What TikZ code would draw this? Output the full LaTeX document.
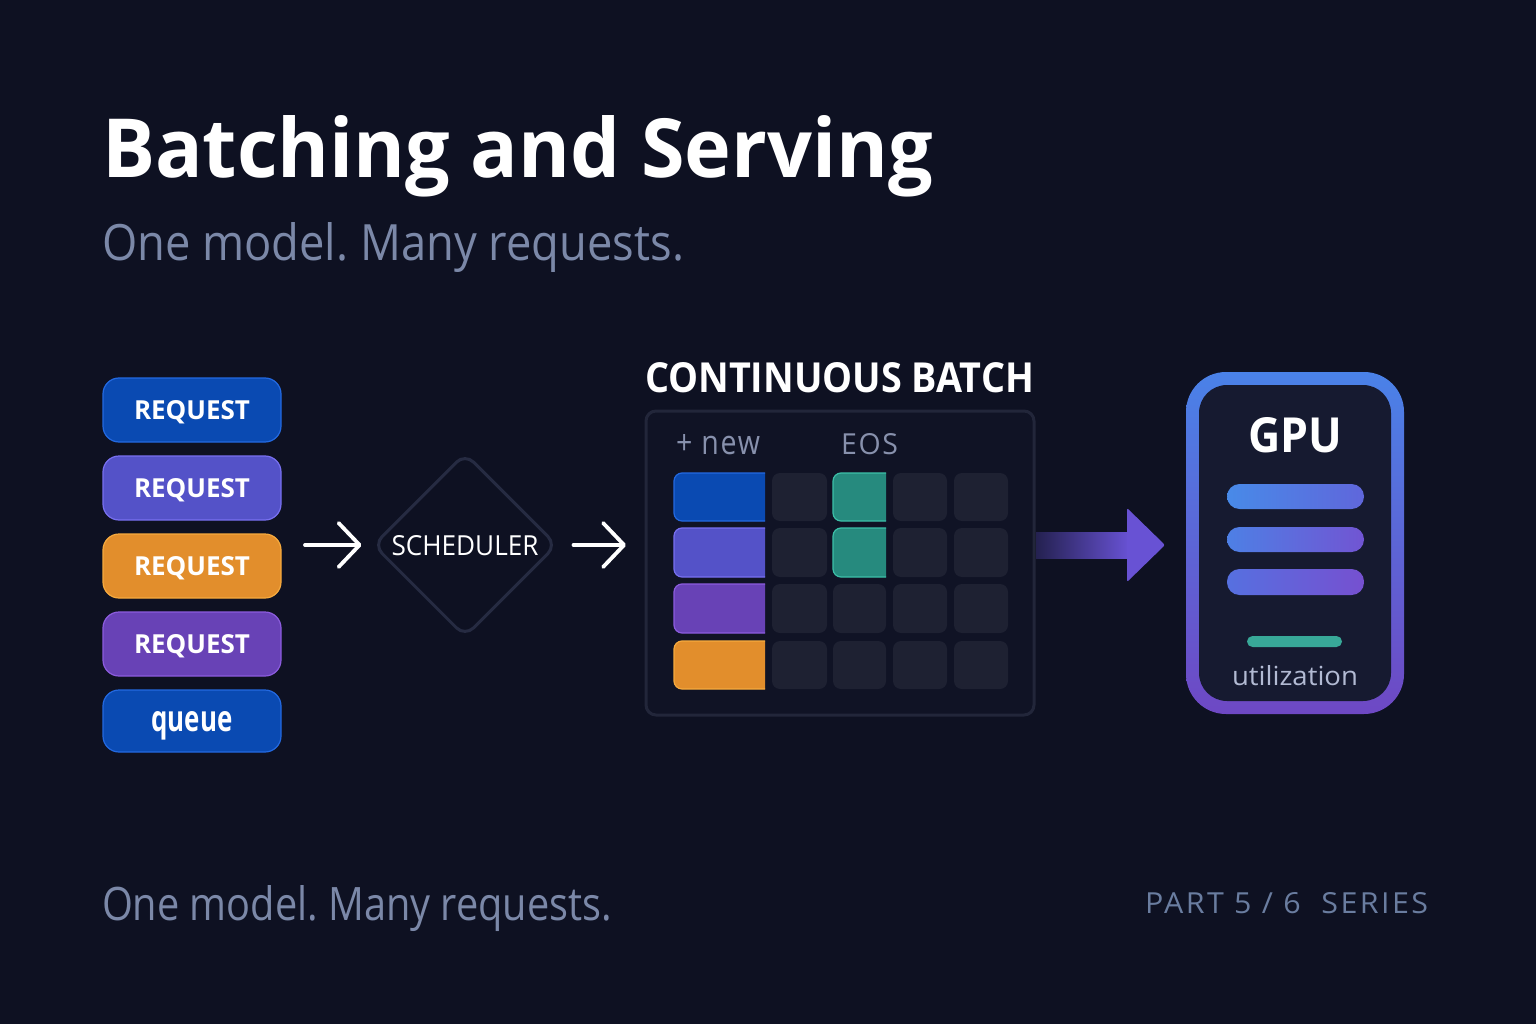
\documentclass[tikz,border=0pt]{standalone}
\usepackage{fontspec}
\usepackage{graphicx}
\setmainfont{Open Sans}
\newfontfamily\partfont[LetterSpace=8]{Open Sans}
\newfontfamily\trackfont[LetterSpace=6]{Open Sans}
\frenchspacing
\usetikzlibrary{arrows.meta,shapes.geometric}
\definecolor{bg}{RGB}{14,17,34}
\definecolor{panelfill}{RGB}{16,19,37}
\definecolor{panelline}{RGB}{34,38,58}
\definecolor{diamline}{RGB}{38,43,66}
\definecolor{celldark}{RGB}{30,33,50}
\definecolor{cblue}{RGB}{10,74,178}
\definecolor{cblueb}{RGB}{35,105,225}
\definecolor{cindigo}{RGB}{84,82,200}
\definecolor{cindigob}{RGB}{120,112,240}
\definecolor{cpurple}{RGB}{104,66,182}
\definecolor{cpurpleb}{RGB}{140,92,222}
\definecolor{corange}{RGB}{226,142,44}
\definecolor{corangeb}{RGB}{246,170,62}
\definecolor{cteal}{RGB}{38,138,126}
\definecolor{ctealb}{RGB}{60,192,168}
\definecolor{subgray}{RGB}{123,136,168}
\definecolor{partgray}{RGB}{106,125,160}
\definecolor{labgray}{RGB}{136,145,173}
\definecolor{utilgray}{RGB}{178,186,211}
\definecolor{gputop}{RGB}{74,130,232}
\definecolor{gpubot}{RGB}{110,72,196}
\definecolor{gpuin}{RGB}{22,26,48}
\definecolor{arrowc}{RGB}{104,82,212}
\definecolor{arrowdark}{RGB}{36,33,80}
\definecolor{barblue}{RGB}{72,138,232}
\definecolor{barmid}{RGB}{86,112,224}
\definecolor{barpurp}{RGB}{118,80,208}
\definecolor{utilteal}{RGB}{56,168,152}
\newcommand\fsz[1]{\fontsize{#1}{#1}\selectfont}
\newcommand\fitt[3]{\resizebox{#1pt}{#2pt}{#3}}
\newcommand\leftcell[6]{%
  \begin{scope}
    \clip ({#1-3},{#2-3}) rectangle (#3,{#4+3});
    \draw[fill=#5,draw=#6,line width=1.2pt,rounded corners=8pt] (#1,#2) rectangle ({#3+20},#4);
  \end{scope}}
\begin{document}
\begin{tikzpicture}[x=1pt,y=-1pt,
  txt/.style={inner sep=0pt,outer sep=0pt},
  req/.style={rounded corners=16pt,minimum width=178pt,minimum height=64pt,inner sep=0pt,text=white,line width=1.2pt,text depth=0pt},
  darkcell/.style={fill=celldark,rounded corners=8pt},
  flow/.style={draw=white,line width=3.8pt,line cap=round,-{Straight Barb[length=21pt,width=44pt,line cap=round,line join=round]}},
  gbar/.style={rounded corners=12.5pt}]
\fill[bg] (0,0) rectangle (1536,1024);
\useasboundingbox (0,0) rectangle (1536,1024);

% titles
\node[txt,anchor=base west,text=white] (title) at (102,178) {\fitt{831}{62}{\fsz{80}\bfseries Batching and Serving}};
\node[txt,anchor=base west,text=subgray] (subtitle) at (102,261) {\fitt{582}{38}{\fsz{50}One model. Many requests.}};
\node[txt,anchor=base west,text=subgray] (footer) at (102,920) {\fitt{510}{35}{\fsz{46}One model. Many requests.}};
\node[txt,anchor=base west,text=partgray] (part) at (1145,913) {\fitt{283}{21}{\fsz{28}\partfont PART 5 / 6\ \ SERIES}};

% requests
\node[req,fill=cblue,draw=cblueb] (r1) at (192,410) {\fitt{116}{19}{\fsz{28}\bfseries REQUEST}};
\node[req,fill=cindigo,draw=cindigob] (r2) at (192,488) {\fitt{116}{19}{\fsz{28}\bfseries REQUEST}};
\node[req,fill=corange,draw=corangeb] (r3) at (192,566) {\fitt{116}{19}{\fsz{28}\bfseries REQUEST}};
\node[req,fill=cpurple,draw=cpurpleb] (r4) at (192,644) {\fitt{116}{19}{\fsz{28}\bfseries REQUEST}};
\node[req,fill=cblue,draw=cblueb,minimum height=62pt] (q) at (192,721) {\fitt{81}{20}{\fsz{28}\bfseries queue}};

% scheduler
\node[diamond,draw=diamline,line width=3pt,rounded corners=12pt,minimum width=184pt,minimum height=184pt,inner sep=0pt,text=white,text depth=0pt] (sched) at (465,545) {\fitt{147}{20}{\fsz{28}SCHEDULER}};
\coordinate (a1s) at (305,545);
\coordinate (a2e) at (626,545);
\draw[flow,shorten >=10pt] (a1s) -- (sched.west);
\draw[flow,shorten <=15pt] (sched.east) -- (a2e);

% batch panel
\node[txt,anchor=base west,text=white] (cbtitle) at (645,392) {\fitt{389}{30}{\fsz{42}\bfseries CONTINUOUS BATCH}};
\node[draw=panelline,fill=panelfill,line width=3pt,rounded corners=10pt,minimum width=388pt,minimum height=304pt,inner sep=0pt] (panel) at (840,563) {};
\node[txt,anchor=base west,text=labgray] (newlab) at (676,454) {\fitt{84}{20}{\fsz{29}\trackfont + new}};
\node[txt,anchor=base west,text=labgray] (eoslab) at (841,454) {\fitt{57}{21}{\fsz{29}\trackfont EOS}};

% column 1 (left-rounded coloured cells)
\leftcell{674}{473}{765}{521}{cblue}{cblueb}
\leftcell{674}{528}{765}{577}{cindigo}{cindigob}
\leftcell{674}{584}{765}{633}{cpurple}{cpurpleb}
\leftcell{674}{641}{765}{689}{corange}{corangeb}
% EOS cells
\leftcell{833}{473}{886}{521}{cteal}{ctealb}
\leftcell{833}{528}{886}{577}{cteal}{ctealb}
% dark cells
\foreach \ya/\yb in {473/521,528/577,584/633,641/689}{
  \fill[darkcell] (772,\ya) rectangle (827,\yb);
  \fill[darkcell] (893,\ya) rectangle (947,\yb);
  \fill[darkcell] (954,\ya) rectangle (1008,\yb);
}
\foreach \ya/\yb in {584/633,641/689}{
  \fill[darkcell] (833,\ya) rectangle (886,\yb);
}

% big arrow
\shade[left color=arrowdark,right color=arrowc] (1036,532) rectangle (1129,558);
\fill[arrowc,rounded corners=2pt] (1127,508) -- (1165,545) -- (1127,582) -- cycle;

% GPU card
\node[rounded corners=40pt,top color=gputop,bottom color=gpubot,minimum width=218pt,minimum height=342pt,inner sep=0pt] (gpu) at (1295,543) {};
\node[rounded corners=28pt,fill=gpuin,minimum width=192pt,minimum height=316pt,inner sep=0pt] (gpuin) at (gpu.center) {};
\node[txt,anchor=base,text=white] (gpulab) at (1295,452) {\fitt{94}{35}{\fsz{49}\bfseries GPU}};
\shade[gbar,left color=barblue,right color=barmid!70!barpurp] (1227,484) rectangle (1364,509);
\shade[gbar,left color=barblue!60!barmid,right color=barpurp!85!barmid] (1227,527) rectangle (1364,552);
\shade[gbar,left color=barmid,right color=barpurp] (1227,569) rectangle (1364,595);
\fill[utilteal,rounded corners=5.5pt] (1247,636) rectangle (1342,647);
\node[txt,anchor=base,text=utilgray] (util) at (1295,685) {\fitt{126}{20}{\fsz{30}utilization}};
\end{tikzpicture}
\end{document}
